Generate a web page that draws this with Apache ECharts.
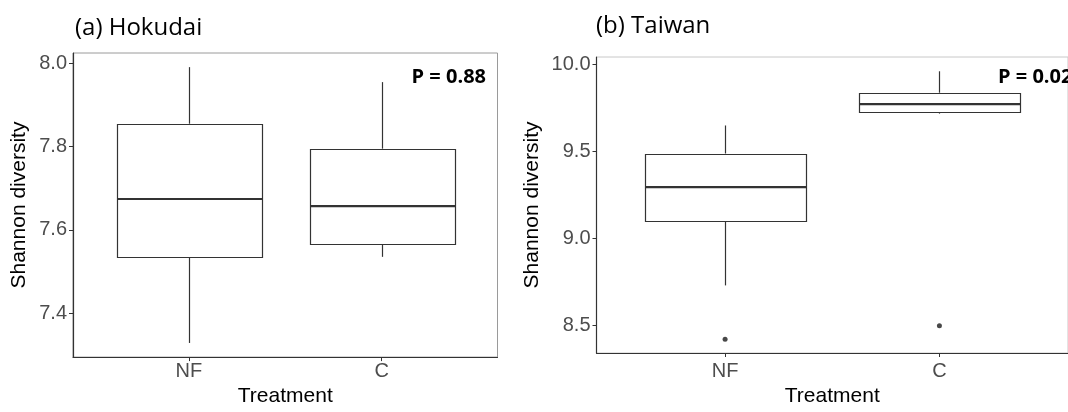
<!DOCTYPE html>
<html>
<head>
<meta charset="utf-8">
<script src="https://cdn.jsdelivr.net/npm/echarts@6/dist/echarts.min.js"></script>
<style>
  html, body { margin: 0; padding: 0; background: #fff; }
  #main { width: 1068px; height: 412px; }
</style>
</head>
<body>
<div id="main"></div>
<script>
var categories = ['NF', 'C'];
// [low whisker, Q1, median, Q3, high whisker]
var hokudaiBox = [
    [7.328, 7.535, 7.674, 7.855, 7.991],
    [7.535, 7.565, 7.657, 7.795, 7.955]
];
var taiwanBox = [
    [8.730, 9.097, 9.294, 9.487, 9.648],
    [9.716, 9.725, 9.770, 9.836, 9.959]
];
var hokudaiOutliers = [];
var taiwanOutliers = [[1, 8.421], [2, 8.498]];
var hokudaiTicks = [7.4, 7.6, 7.8, 8.0];
var taiwanTicks = [8.5, 9.0, 9.5, 10.0];
var pValues = ['P = 0.88', 'P = 0.02'];

var BOX_W = 0.75;
var ink = '#333333';

function boxData(rows) {
    return rows.map(function (r, i) {
        return [i + 1].concat(r);
    });
}

function renderBox(params, api) {
    var x = api.value(0);
    var lo = api.coord([x, api.value(1)]);
    var q1 = api.coord([x, api.value(2)]);
    var med = api.coord([x, api.value(3)]);
    var q3 = api.coord([x, api.value(4)]);
    var hi = api.coord([x, api.value(5)]);
    var w = api.size([BOX_W, 0])[0];
    var cx = Math.round(q1[0]) + 0.5;
    var left = Math.round(cx - w / 2) + 0.5;
    var right = Math.round(cx + w / 2) + 0.5;
    var lineStyle = { stroke: ink, lineWidth: 1.2 };
    return {
        type: 'group',
        children: [
            { type: 'line', shape: { x1: cx, y1: hi[1], x2: cx, y2: q3[1] }, style: lineStyle },
            { type: 'line', shape: { x1: cx, y1: q1[1], x2: cx, y2: lo[1] }, style: lineStyle },
            {
                type: 'rect',
                shape: { x: left, y: Math.round(q3[1]) + 0.5, width: right - left, height: Math.round(q1[1]) - Math.round(q3[1]) },
                style: { fill: '#fff', stroke: ink, lineWidth: 1.2 }
            },
            { type: 'line', shape: { x1: left, y1: med[1], x2: right, y2: med[1] }, style: { stroke: ink, lineWidth: 2.2 } }
        ]
    };
}

function xAxisFor(gridIndex, margin, gap) {
    return {
        type: 'value',
        gridIndex: gridIndex,
        min: 0.4,
        max: 2.6,
        name: 'Treatment',
        nameLocation: 'middle',
        nameGap: gap,
        nameTextStyle: { fontFamily: 'Liberation Sans', fontSize: 21, color: '#000' },
        axisLine: { show: true, onZero: false, lineStyle: { color: ink, width: 1.2 } },
        axisTick: { show: true, length: 4, customValues: [1, 2], lineStyle: { color: ink } },
        axisLabel: {
            customValues: [1, 2],
            margin: margin,
            fontFamily: 'Liberation Sans',
            fontSize: 20,
            color: '#4d4d4d',
            formatter: function (v) { return categories[Math.round(v) - 1]; }
        },
        splitLine: { show: false }
    };
}

function yAxisFor(gridIndex, min, max, ticks, gap) {
    return {
        type: 'value',
        gridIndex: gridIndex,
        min: min,
        max: max,
        name: 'Shannon diversity',
        nameLocation: 'middle',
        nameGap: gap,
        nameTextStyle: { fontFamily: 'Liberation Sans', fontSize: 21, color: '#000' },
        axisLine: { show: true, onZero: false, lineStyle: { color: ink, width: 1.2 } },
        axisTick: { show: true, length: 4, customValues: ticks, lineStyle: { color: ink } },
        axisLabel: {
            customValues: ticks,
            margin: 6,
            fontFamily: 'Liberation Sans',
            fontSize: 20,
            color: '#4d4d4d',
            formatter: function (v) { return v.toFixed(1); }
        },
        splitLine: { show: false }
    };
}

var myChart = echarts.init(document.getElementById('main'));

var option = {
    backgroundColor: '#fff',
    animation: false,
    title: [
        { text: '(a) Hokudai', left: 70, top: 11, textStyle: { fontFamily: 'Open Sans', fontSize: 24, fontWeight: 'normal', color: '#000' } },
        { text: '(b) Taiwan', left: 591, top: 9, textStyle: { fontFamily: 'Open Sans', fontSize: 24, fontWeight: 'normal', color: '#000' } },
        { text: pValues[0], right: 577, top: 62, textStyle: { fontFamily: 'Open Sans', fontSize: 20, fontWeight: 'bold', color: '#000' } },
        { text: pValues[1], left: 993, top: 62, textStyle: { fontFamily: 'Open Sans', fontSize: 20, fontWeight: 'bold', color: '#000' } }
    ],
    grid: [
        { left: 73, width: 424.5, top: 53, bottom: 47, show: true, borderColor: '#9a9a9a', borderWidth: 1, backgroundColor: '#fff' },
        { left: 596.5, width: 479.5, top: 57, bottom: 53, show: true, borderColor: '#c8c8c8', borderWidth: 1, backgroundColor: '#fff' }
    ],
    xAxis: [xAxisFor(0, 4, 26), xAxisFor(1, 8, 33)],
    yAxis: [
        yAxisFor(0, 7.294, 8.025, hokudaiTicks, 43),
        yAxisFor(1, 8.342, 10.041, taiwanTicks, 54)
    ],
    series: [
        { type: 'custom', xAxisIndex: 0, yAxisIndex: 0, renderItem: renderBox, data: boxData(hokudaiBox), silent: true },
        { type: 'custom', xAxisIndex: 1, yAxisIndex: 1, renderItem: renderBox, data: boxData(taiwanBox), silent: true },
        { type: 'scatter', xAxisIndex: 0, yAxisIndex: 0, data: hokudaiOutliers, symbolSize: 5, itemStyle: { color: '#1a1a1a' } },
        { type: 'scatter', xAxisIndex: 1, yAxisIndex: 1, data: taiwanOutliers, symbolSize: 5, itemStyle: { color: '#1a1a1a' } }
    ]
};

myChart.setOption(option);
</script>
</body>
</html>
